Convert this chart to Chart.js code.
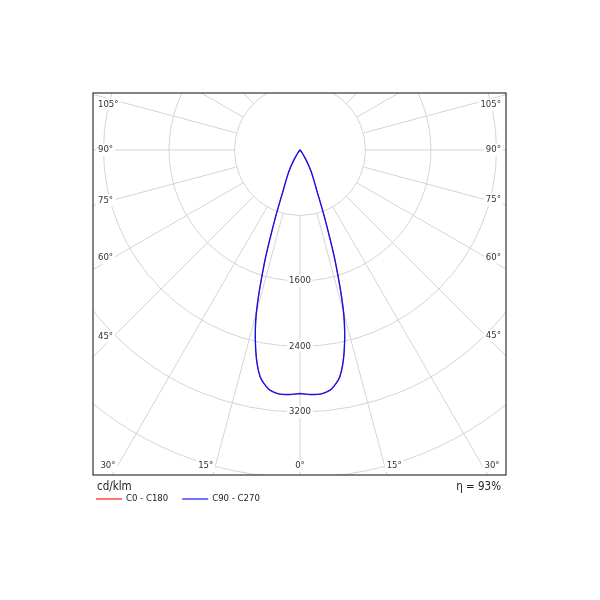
<!DOCTYPE html>
<html lang="en">
<head>
<meta charset="UTF-8">
<title>Diagrama polar</title>
<script src="https://cdn.jsdelivr.net/npm/chart.js"></script>
<style>
    body { margin: 0; background: #fff; }
    #wrap { width: 600px; height: 600px; }
</style>
</head>
<body>
<div id="wrap"><canvas id="grafico" width="600" height="600"></canvas></div>
<script>
// gamma angle (deg from nadir) and intensity in cd/klm
const gamma    = [0, 2.5, 5, 7.5, 10, 12.5, 15, 17.5, 20, 22.5, 25, 27.5, 30, 32.5, 35, 40, 45, 60, 75, 90];
const c0_c180  = [2975, 2990, 2990, 2945, 2810, 2500, 2060, 1440, 880, 540, 390, 290, 190, 110, 60, 20, 5, 0, 0, 0];
const c90_c270 = [2975, 2990, 2990, 2945, 2810, 2500, 2060, 1440, 880, 540, 390, 290, 190, 110, 60, 20, 5, 0, 0, 0];

const rings = [800, 1600, 2400, 3200, 4000, 4800, 5600];
const ringLabels = [1600, 2400, 3200];
const angleLabels = [0, 15, 30, 45, 60, 75, 90, 105];
const unidade = 'cd/klm';
const eta = 'η = 93%';

const FONTE = '"DejaVu Sans Condensed", "DejaVu Sans", sans-serif';

// one plane: right half (first angle of the pair), then left half back to nadir
function curva(vals) {
    var pts = [];
    for (var i = 0; i < gamma.length; i++) {
        var g = gamma[i] * Math.PI / 180;
        pts.push({ x: vals[i] * Math.sin(g), y: -vals[i] * Math.cos(g) });
    }
    for (var j = gamma.length - 1; j >= 0; j--) {
        var h = gamma[j] * Math.PI / 180;
        pts.push({ x: -vals[j] * Math.sin(h), y: -vals[j] * Math.cos(h) });
    }
    return pts;
}

function etiqueta(ctx, txt, x, y, align) {
    ctx.textAlign = align;
    var w = ctx.measureText(txt).width;
    var x0 = align == 'left' ? x : (align == 'right' ? x - w : x - w / 2);
    ctx.fillStyle = '#fff';
    ctx.fillRect(x0 - 2, y - 6, w + 4, 12);
    ctx.fillStyle = '#333';
    ctx.fillText(txt, x, y);
}

const polarGrid = {
    id: 'polarGrid',
    beforeDatasetsDraw(chart) {
        const ctx = chart.ctx;
        const a = chart.chartArea;
        const sx = chart.scales.x, sy = chart.scales.y;
        const cx = sx.getPixelForValue(0), cy = sy.getPixelForValue(0);
        const k = (sx.getPixelForValue(1000) - cx) / 1000;

        ctx.save();
        ctx.beginPath();
        ctx.rect(a.left, a.top, a.right - a.left, a.bottom - a.top);
        ctx.clip();

        ctx.strokeStyle = '#d4d4d4';
        ctx.lineWidth = 1;
        rings.forEach(function (v) {
            ctx.beginPath();
            ctx.arc(cx, cy, v * k, 0, 2 * Math.PI);
            ctx.stroke();
        });
        var r0 = rings[0] * k;
        for (var g = 0; g < 360; g += 15) {
            var t = g * Math.PI / 180;
            ctx.beginPath();
            ctx.moveTo(cx + r0 * Math.sin(t), cy + r0 * Math.cos(t));
            ctx.lineTo(cx + 1000 * Math.sin(t), cy + 1000 * Math.cos(t));
            ctx.stroke();
        }

        ctx.font = '9.5px ' + FONTE;
        ctx.textBaseline = 'middle';

        ringLabels.forEach(function (v) {
            etiqueta(ctx, String(v), cx, cy + v * k, 'center');
        });

        angleLabels.forEach(function (g) {
            var t = g * Math.PI / 180;
            var txt = g + '°';
            var w = ctx.measureText(txt).width;
            var fundo = g < 90 && Math.tan(t) * (a.bottom - cy) < (cx - a.left);
            if (fundo) {
                var yl = a.bottom - 9;
                if (g == 0) {
                    etiqueta(ctx, txt, cx, yl, 'center');
                } else {
                    var dx = (yl - cy) * Math.tan(t);
                    etiqueta(ctx, txt, cx - dx - 2, yl, 'right');
                    etiqueta(ctx, txt, cx + dx + 2, yl, 'left');
                }
            } else {
                var cot = Math.cos(t) / Math.sin(t);
                var xl = a.left + 5;
                var yL = cy + (cx - (xl + w)) * cot;
                if (g > 90) yL += 3;
                etiqueta(ctx, txt, xl, yL, 'left');
                var xr = a.right - 5;
                var yR = cy + ((xr - w) - cx) * cot;
                if (g > 90) yR += 3;
                etiqueta(ctx, txt, xr, yR, 'right');
            }
        });
        ctx.restore();
    },
    afterDraw(chart) {
        const ctx = chart.ctx;
        const a = chart.chartArea;
        ctx.save();
        ctx.strokeStyle = '#333';
        ctx.lineWidth = 1.2;
        ctx.strokeRect(a.left, a.top, a.right - a.left, a.bottom - a.top);

        ctx.textBaseline = 'middle';
        ctx.fillStyle = '#222';
        ctx.font = '11.5px ' + FONTE;
        ctx.textAlign = 'left';
        ctx.fillText(unidade, a.left + 4, a.bottom + 12);
        ctx.textAlign = 'right';
        ctx.fillText(eta, a.right - 5, a.bottom + 12);

        ctx.font = '9.5px ' + FONTE;
        ctx.textAlign = 'left';
        var x = a.left + 3;
        var y = a.bottom + 24;
        chart.data.datasets.forEach(function (ds) {
            ctx.strokeStyle = ds.borderColor;
            ctx.lineWidth = 1.2;
            ctx.beginPath();
            ctx.moveTo(x, y);
            ctx.lineTo(x + 26, y);
            ctx.stroke();
            ctx.fillStyle = '#222';
            ctx.fillText(ds.label, x + 30, y);
            x += 30 + ctx.measureText(ds.label).width + 14;
        });
        ctx.restore();
    }
};

new Chart(document.getElementById('grafico'), {
    type: 'scatter',
    data: {
        datasets: [{
            label: 'C0 - C180',
            data: curva(c0_c180),
            borderColor: '#ff1a1a',
            borderWidth: 0.8,
            showLine: true,
            tension: 0.25,
            pointRadius: 0,
            order: 2
        }, {
            label: 'C90 - C270',
            data: curva(c90_c270),
            borderColor: '#1414e6',
            borderWidth: 1.4,
            showLine: true,
            tension: 0.25,
            pointRadius: 0,
            order: 1
        }]
    },
    options: {
        responsive: false,
        animation: false,
        layout: { padding: { left: 93, top: 93, right: 94, bottom: 125 } },
        scales: {
            x: { type: 'linear', min: -2528, max: 2516, display: false },
            y: { type: 'linear', min: -3970, max: 696, display: false }
        },
        plugins: {
            legend: { display: false },
            tooltip: { enabled: false }
        }
    },
    plugins: [polarGrid]
});
</script>
</body>
</html>
